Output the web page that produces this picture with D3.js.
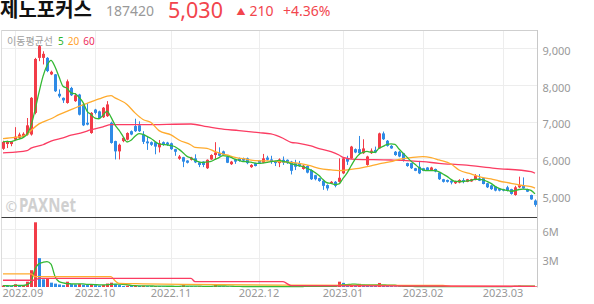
<!DOCTYPE html>
<html><head><meta charset="utf-8">
<script src="https://cdn.jsdelivr.net/npm/d3@7"></script>
<style>
body{margin:0;background:#fff;}
svg{display:block;font-family:"Noto Sans","Noto Sans CJK KR",sans-serif;}
</style></head><body>
<svg id="c" width="594" height="304"></svg>
<script>
// ---- data (daily candles, 2022-08-29 .. 2023-03-14) ----
const open = [6260,6390,6390,6510,6560,6590,6650,6650,7240,8740,
8740,8740,8290,8290,7760,7650,7510,7920,7560,7740,
7470,6970,6690,7330,7280,7120,7150,6970,6470,6190,
6470,6510,6740,6880,6900,6650,6460,6440,6440,6300,
6440,6430,6410,6250,5990,6030,5940,5960,6000,5890,
5910,5730,5970,6090,6140,6190,6050,5840,5970,6000,
6000,6000,5760,5870,5940,5880,6020,5970,5930,5870,
5960,5960,5910,5870,5870,5710,5790,5680,5540,5460,
5390,5270,5320,5360,5360,5590,6000,6000,6250,6250,
6140,5820,6140,6230,6270,6680,6480,6340,6180,6180,
6140,5870,5870,5730,5770,5730,5750,5680,5710,5610,
5430,5410,5390,5320,5340,5410,5360,5370,5410,5450,
5460,5320,5260,5230,5170,5160,5210,5160,5000,5210,
5270,5160,5000,4850];
const high = [6480,6480,6470,6850,6700,6710,7100,7670,8740,9090,
8920,8760,8390,8300,7880,7660,8150,7950,7780,7760,
7500,7500,7260,7350,7300,7400,7560,7000,6480,6400,
6580,6710,6760,7080,7010,6740,6590,6460,6450,6500,
6460,6450,6430,6260,6090,6040,5950,6040,6110,5900,
5920,5970,6110,6440,6300,6210,6070,5930,5990,6020,
6020,6020,5840,5880,5950,6120,6070,6070,5940,6000,
6050,5970,5930,5960,5930,5820,5810,5700,5550,5470,
5410,5290,5380,5380,6000,6030,6070,6340,6270,6610,
6520,6070,6270,6320,6700,6730,6500,6360,6200,6200,
6150,5880,5880,5740,5930,5740,5760,5770,5720,5620,
5440,5420,5400,5390,5430,5460,5440,5440,5570,5570,
5470,5330,5280,5240,5190,5170,5250,5170,5250,5500,
5480,5170,5010,4880];
const low = [6230,6280,6330,6490,6530,6570,6620,6620,7200,8650,
8560,8350,8270,7810,7650,7510,7490,7700,7540,7170,
6880,6900,6670,7200,7080,7100,7130,6400,5970,5970,
6440,6490,6630,6720,6720,6390,6230,6340,6110,6160,
6340,6340,6230,6070,5960,5760,5860,5940,5870,5760,
5760,5710,5960,5960,6050,6090,5870,5820,5850,5910,
5920,5840,5740,5780,5870,5870,5940,5850,5790,5760,
5820,5850,5560,5680,5770,5690,5590,5410,5400,5360,
5140,5120,5300,5210,5340,5570,5820,5980,6140,6090,
6120,5800,6120,6140,6260,6500,6320,6260,6070,6030,
5910,5770,5710,5650,5570,5650,5670,5670,5620,5410,
5340,5340,5290,5300,5320,5320,5350,5360,5400,5380,
5290,5190,5140,5100,5100,5100,5100,5010,4980,5190,
5170,5080,4870,4680];
const close = [6450,6470,6450,6590,6650,6670,6900,7650,8710,9060,
8850,8380,8360,7830,7690,7580,8100,7720,7720,7190,
6900,6920,7240,7240,7100,7380,7470,6420,6190,6370,
6560,6690,6650,6740,6740,6450,6410,6370,6320,6410,
6370,6370,6250,6180,6050,5910,5880,6020,5890,5820,
5820,5960,6090,6160,6070,6100,5880,5910,5910,5930,
5940,5870,5820,5790,5880,6000,5960,5910,5870,5970,
5880,5870,5660,5770,5790,5800,5610,5430,5430,5380,
5250,5180,5360,5250,5470,6000,5910,6320,6160,6140,
6270,6050,6210,6160,6680,6520,6340,6270,6090,6050,
5960,5790,5730,5660,5590,5660,5680,5750,5640,5430,
5360,5360,5340,5370,5410,5360,5430,5430,5520,5390,
5300,5210,5160,5120,5120,5120,5120,5030,5210,5270,
5180,5090,4880,4730];
// volume in thousands of shares
const volumeK = [150,110,100,290,120,150,550,1740,6700,2990,
800,900,450,350,260,190,550,300,250,320,
240,200,300,190,150,210,360,450,300,200,
110,150,100,130,110,120,90,80,100,90,
70,60,80,70,90,180,80,70,60,70,
60,90,80,200,90,70,60,50,50,60,
50,60,50,40,50,70,50,50,40,50,
40,40,80,60,40,50,60,80,60,50,
70,60,70,60,550,430,170,200,150,330,
250,180,150,120,420,200,120,90,70,60,
60,50,50,40,50,40,40,50,40,60,
50,40,40,40,40,40,40,40,60,50,
50,40,40,40,40,40,50,60,120,130,
80,50,70,70];
// moving averages (trading-day index, value)
const ma20Days = [0,3,6,7,9,12,14,17,19,22,24,27,28,31,33,35,37,39,42,44,47,48,51,53,56,58,61,63,66,69,72,74,77,79,82,84,87,89,92,94,97,99,102,105,107,109,112,114,117,119,122,124,127,129,132,133];
const ma20Vals = [6540,6570,6650,6760,6940,7080,7190,7330,7420,7540,7620,7710,7650,7470,7240,7060,6975,6756,6638,6500,6365,6300,6274,6183,6092,6028,5974,5937,5928,5910,5892,5865,5792,5728,5683,5664,5700,5728,5792,5846,5910,5974,6020,6047,6020,5955,5846,5683,5573,5500,5437,5382,5318,5273,5228,5190];
const ma60Days = [0,3,6,7,10,12,15,17,20,22,25,27,35,47,51,54,59,64,67,70,72,74,77,79,82,84,85,88,97,105,109,115,123,132,133];
const ma60Vals = [6150,6170,6210,6280,6370,6470,6560,6630,6710,6780,6860,6920,6920,6937,6865,6810,6756,6700,6665,6547,6438,6410,6338,6265,6183,6092,6028,5974,5955,5910,5865,5820,5728,5637,5592];
const vma20Days = [0,7,8,27,28,29,35,45,70,100,110,112,133];
const vma20Vals = [1350,1350,1070,1070,650,380,330,280,200,170,170,70,60];
const vma60Days = [0,8,9,47,48,70,72,133];
const vma60Vals = [700,700,900,900,550,550,150,70];
// axis ticks
const monthTickDays = [3,23,42,64,85,105,125];
const monthTickLabels = ["2022.09","2022.10","2022.11","2022.12","2023.01","2023.02","2023.03"];
const priceTicks = [5000,6000,7000,8000,9000];
const volTicks = [3000,6000];

// ---- layout ----
const N = close.length;
const L = 1.5, R = 537.5, PT = 30, PB = 217, VB = 287;
const UP = "#f23c48", DOWN = "#2f8be6";
const C5 = "#34b934", C20 = "#ffab2e", C60 = "#fb3c62";

const svg = d3.select("#c");
const x = d3.scaleLinear().domain([0, N - 1]).range([3, 535]);
const yP = d3.scaleLinear().domain([4400, 9500]).range([PB, PT]);
const yV = d3.scaleLinear().domain([0, 7250]).range([VB, PB]);
const px = i => Math.round(x(i)) + 0.5;

// header
svg.append("text").attr("x", 0).attr("y", 17).attr("font-size", 20).attr("font-weight", 700)
  .attr("fill", "#111").attr("font-family", "'Noto Sans CJK KR'").text("제노포커스");
svg.append("text").attr("x", 106).attr("y", 16).attr("font-size", 14).attr("fill", "#999").text("187420");
svg.append("text").attr("x", 168).attr("y", 17.5).attr("font-size", 21.5).attr("fill", "#f2454d").text("5,030");
svg.append("text").attr("x", 236.5).attr("y", 14.5).attr("font-size", 9).attr("fill", "#f2454d").text("▲");
svg.append("text").attr("x", 249.5).attr("y", 16).attr("font-size", 14).attr("fill", "#f2454d").text("210");
svg.append("text").attr("x", 283).attr("y", 16).attr("font-size", 14).attr("fill", "#f2454d").text("+4.36%");

// grid
const grid = svg.append("g").attr("stroke", "#ededed").attr("stroke-width", 1);
priceTicks.forEach(v => grid.append("line").attr("x1", L).attr("x2", R)
  .attr("y1", Math.round(yP(v)) + 0.5).attr("y2", Math.round(yP(v)) + 0.5));
volTicks.forEach(v => grid.append("line").attr("x1", L).attr("x2", R)
  .attr("y1", Math.round(yV(v)) + 0.5).attr("y2", Math.round(yV(v)) + 0.5));
monthTickDays.forEach(d => grid.append("line").attr("x1", px(d)).attr("x2", px(d))
  .attr("y1", PT).attr("y2", VB));

// watermark
svg.append("text").attr("x", 5.5).attr("y", 211.5).attr("font-size", 14).attr("font-weight", 700)
  .attr("fill", "#d0d0d0").text("©");
svg.append("text").attr("x", 19).attr("y", 211.5).attr("font-size", 20).attr("font-weight", 700)
  .attr("fill", "#d0d0d0").attr("textLength", 57).attr("lengthAdjust", "spacingAndGlyphs").text("PAXNet");

// legend
const lg = svg.append("text").attr("x", 7).attr("y", 45).attr("font-size", 10);
lg.append("tspan").attr("fill", "#a0a0a0").attr("font-family", "'Noto Sans CJK KR'").text("이동평균선");
lg.append("tspan").attr("dx", 5).attr("fill", "#2db52d").text("5");
lg.append("tspan").attr("dx", 4).attr("fill", "#ffa22b").text("20");
lg.append("tspan").attr("dx", 4).attr("fill", "#ee2e5e").text("60");

// candles
const idx = d3.range(N);
const cg = svg.append("g");
cg.selectAll("line").data(idx).join("line")
  .attr("x1", px).attr("x2", px)
  .attr("y1", i => yP(high[i])).attr("y2", i => yP(low[i]))
  .attr("stroke", i => close[i] >= open[i] ? UP : DOWN).attr("stroke-width", 1);
cg.selectAll("rect").data(idx).join("rect")
  .attr("x", i => px(i) - 1.5).attr("width", 3)
  .attr("y", i => yP(Math.max(open[i], close[i])))
  .attr("height", i => Math.max(1, Math.abs(yP(open[i]) - yP(close[i]))))
  .attr("fill", i => close[i] >= open[i] ? UP : DOWN);

// moving averages
const ma5 = idx.map(i => { const s = close.slice(Math.max(0, i - 4), i + 1); return [i, d3.mean(s)]; });
const pline = d3.line().x(d => x(d[0])).y(d => yP(d[1])).curve(d3.curveMonotoneX);
const maG = svg.append("g").attr("fill", "none").attr("stroke-width", 1.3);
maG.append("path").attr("d", pline(ma60Days.map((d, k) => [d, ma60Vals[k]]))).attr("stroke", C60);
maG.append("path").attr("d", pline(ma20Days.map((d, k) => [d, ma20Vals[k]]))).attr("stroke", C20);
maG.append("path").attr("d", pline(ma5)).attr("stroke", C5);

// volume bars
const vg = svg.append("g");
vg.selectAll("rect").data(idx).join("rect")
  .attr("x", i => px(i) - 1.5).attr("width", 3)
  .attr("y", i => yV(volumeK[i])).attr("height", i => VB - yV(volumeK[i]))
  .attr("fill", i => (i === 0 || volumeK[i] >= volumeK[i - 1]) ? UP : DOWN);
const vma5 = idx.map(i => [i, d3.mean(volumeK.slice(Math.max(0, i - 4), i + 1))]);
const vline = d3.line().x(d => x(d[0])).y(d => yV(d[1])).curve(d3.curveMonotoneX);
const vmaG = svg.append("g").attr("fill", "none").attr("stroke-width", 1.3);
vmaG.append("path").attr("d", vline(vma5)).attr("stroke", C5);
vmaG.append("path").attr("d", vline(vma20Days.map((d, k) => [d, vma20Vals[k]]))).attr("stroke", C20);
vmaG.append("path").attr("d", vline(vma60Days.map((d, k) => [d, vma60Vals[k]]))).attr("stroke", C60);

// frame
const fr = svg.append("g");
fr.append("line").attr("x1", L).attr("x2", R).attr("y1", PT + 0.5).attr("y2", PT + 0.5).attr("stroke", "#cfcfcf");
fr.append("line").attr("x1", L).attr("x2", L).attr("y1", PT).attr("y2", VB).attr("stroke", "#dcdcdc");
fr.append("line").attr("x1", L).attr("x2", R).attr("y1", PB + 0.5).attr("y2", PB + 0.5).attr("stroke", "#3c3c3c");
fr.append("line").attr("x1", R).attr("x2", R).attr("y1", PT).attr("y2", VB + 0.5).attr("stroke", "#c8c8c8");

// right axes
const ax = svg.append("g").attr("transform", `translate(${R},0)`)
  .call(d3.axisRight(yP).tickValues(priceTicks).tickSize(0).tickPadding(5).tickFormat(d3.format(",")));
const av = svg.append("g").attr("transform", `translate(${R},0)`)
  .call(d3.axisRight(yV).tickValues(volTicks).tickSize(0).tickPadding(5).tickFormat(d => d / 1000 + "M"));
[ax, av].forEach(g => {
  g.select(".domain").remove();
  g.selectAll("text").attr("fill", "#999").attr("font-size", 11).attr("dy", "0.55em")
    .attr("font-family", "'Noto Sans',sans-serif");
});

// x labels
monthTickDays.forEach((d, k) => {
  const t = svg.append("text").attr("x", x(d)).attr("y", 296.5).attr("font-size", 11)
    .attr("fill", "#999").attr("text-anchor", "middle").text(monthTickLabels[k]);
  const w = t.node().getComputedTextLength();
  if (x(d) - w / 2 < 2.5) t.attr("text-anchor", "start").attr("x", 2.5);
});
</script>
</body></html>
